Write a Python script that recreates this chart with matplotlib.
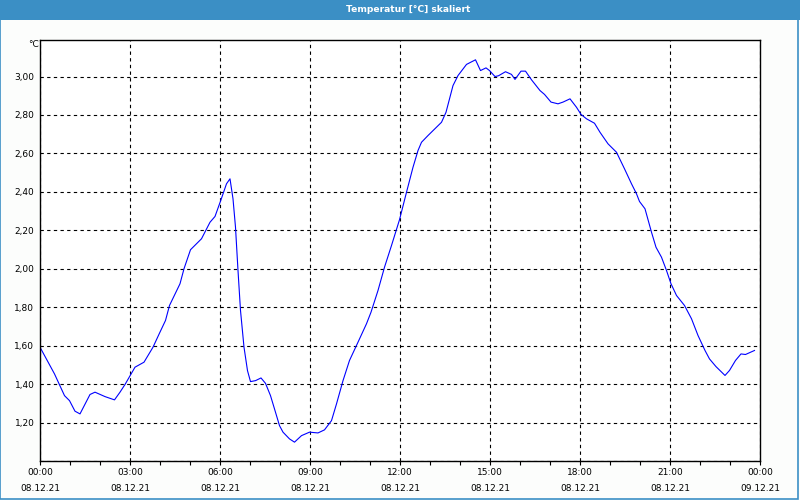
import matplotlib
matplotlib.use("Agg")
import matplotlib.pyplot as plt
import matplotlib.dates as mdates
from matplotlib.patches import Rectangle
from matplotlib.ticker import FuncFormatter, MultipleLocator
import pandas as pd

# minutes after 08.12.21 00:00 and temperature readings
minutes = [0, 29, 49, 59, 70, 80, 100, 110, 130, 149, 160, 170, 190, 208, 226,
           239, 251, 259, 280, 288, 301, 323, 340, 350, 362, 373, 380, 386, 391,
           396, 401, 408, 415, 421, 431, 442, 451, 461, 469, 479, 486, 499, 509,
           523, 539, 556, 569, 583, 593, 606, 619, 636, 653, 662, 676, 689, 703,
           719, 733, 746, 756, 763, 776, 803, 812, 826, 836, 853, 871, 881, 892,
           899, 910, 917, 931, 943, 950, 962, 971, 983, 1000, 1009, 1022, 1036,
           1046, 1060, 1073, 1082, 1093, 1109, 1120, 1136, 1153, 1169, 1183, 1193,
           1199, 1210, 1223, 1232, 1243, 1253, 1262, 1273, 1289, 1303, 1316, 1330,
           1339, 1352, 1370, 1379, 1391, 1402, 1411, 1429]
temps = [1.592, 1.453, 1.34, 1.314, 1.259, 1.245, 1.346, 1.358, 1.335, 1.318, 1.358,
         1.398, 1.488, 1.514, 1.592, 1.665, 1.731, 1.809, 1.922, 2.0, 2.099, 2.156,
         2.242, 2.272, 2.359, 2.442, 2.468, 2.364, 2.216, 1.991, 1.783, 1.592, 1.47,
         1.413, 1.418, 1.432, 1.404, 1.34, 1.271, 1.184, 1.15, 1.115, 1.098, 1.132,
         1.15, 1.146, 1.162, 1.21, 1.297, 1.418, 1.523, 1.618, 1.714, 1.774, 1.887,
         2.008, 2.121, 2.255, 2.398, 2.528, 2.615, 2.658, 2.693, 2.762, 2.814, 2.953,
         3.005, 3.063, 3.087, 3.031, 3.045, 3.031, 3.0, 3.004, 3.025, 3.011, 2.985,
         3.028, 3.028, 2.983, 2.927, 2.907, 2.867, 2.858, 2.867, 2.884, 2.84, 2.803,
         2.78, 2.757, 2.71, 2.65, 2.606, 2.52, 2.442, 2.39, 2.35, 2.312, 2.19, 2.112,
         2.06, 1.991, 1.922, 1.861, 1.809, 1.74, 1.653, 1.575, 1.531, 1.491, 1.445,
         1.471, 1.523, 1.557, 1.554, 1.575]

title = "Temperatur [°C] skaliert"
unit = "°C"
start = pd.Timestamp("2021-12-08 00:00")
end = pd.Timestamp("2021-12-09 00:00")

times = start + pd.to_timedelta(minutes, unit="min")

blue = "#3b8fc5"

fig = plt.figure(figsize=(8, 5), dpi=100, facecolor="#fcfdfc")
ax = fig.add_axes([0.05, 0.078, 0.90, 0.842])
ax.set_facecolor("white")

ax.plot(times, temps, color="#0000ff", linewidth=0.8)

ax.set_xlim(start, end)
ax.set_ylim(1.0, 3.19)

ax.xaxis.set_major_locator(mdates.HourLocator(byhour=range(0, 24, 3)))
ax.xaxis.set_minor_locator(mdates.HourLocator())
ax.xaxis.set_major_formatter(mdates.DateFormatter("%H:%M\n%d.%m.%y"))
ax.yaxis.set_major_locator(MultipleLocator(0.2))
ax.yaxis.set_major_formatter(FuncFormatter(lambda v, p: f"{v:.2f}".replace(".", ",") if v > 1.1 else ""))

ax.grid(True, which="major", color="black", linestyle=(0, (3, 3)), linewidth=0.8)
ax.tick_params(axis="x", which="both", length=3, width=0.8, direction="out",
               labelsize=6.5, pad=2)
ax.tick_params(axis="y", length=0, labelsize=6.5, pad=4)
for lbl in ax.get_xticklabels():
    lbl.set_linespacing(2.0)
for s in ax.spines.values():
    s.set_linewidth(1.0)
    s.set_color("black")

fig.text(0.048, 0.911, unit, ha="right", va="center", fontsize=6.5)

# title bar and frame
fig.patches.append(Rectangle((0, 0.96), 1, 0.04, transform=fig.transFigure,
                             facecolor=blue, edgecolor="none"))
fig.patches.append(Rectangle((0.0006, 0.003), 0.997, 0.995, transform=fig.transFigure,
                             facecolor="none", edgecolor=blue, linewidth=1.2))
fig.text(0.51, 0.98, title, ha="center", va="center", color="white",
         fontsize=6.6, fontweight="bold")

fig.savefig("out.png", dpi=100, facecolor=fig.get_facecolor())
